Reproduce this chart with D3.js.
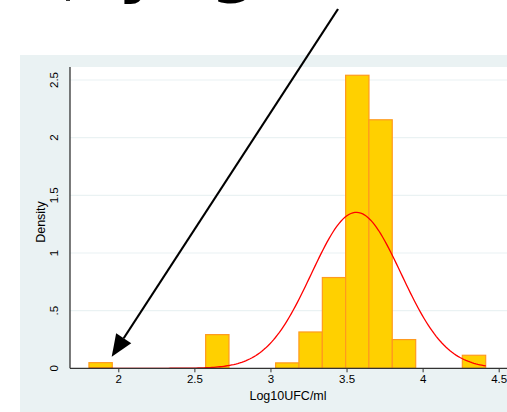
<!DOCTYPE html>
<html>
<head>
<meta charset="utf-8">
<script src="https://cdn.jsdelivr.net/npm/d3@7/dist/d3.min.js"></script>
<style>
  html, body { margin: 0; padding: 0; background: #ffffff; }
  svg { display: block; }
  text { font-family: "Liberation Sans", Arial, sans-serif; fill: #000; }
</style>
</head>
<body>
<div id="chart"></div>
<script>
// ── data ──
const binLeft = [1.807, 2.574, 3.034, 3.187, 3.341, 3.494, 3.647, 3.801, 4.261];
const binDensity = [0.049, 0.292, 0.047, 0.315, 0.787, 2.541, 2.155, 0.249, 0.113];
const binWidth = 0.1534;
const dataMin = 1.807;
const dataMax = 4.415;
const normMean = 3.564;
const normSd = 0.295;
const xTicks = [2, 2.5, 3, 3.5, 4, 4.5];
const xTickLabels = ["2", "2.5", "3", "3.5", "4", "4.5"];
const yTicks = [0, 0.5, 1, 1.5, 2, 2.5];
const yTickLabels = ["0", ".5", "1", "1.5", "2", "2.5"];

const W = 507, H = 412;

const svg = d3.select("#chart").append("svg")
  .attr("width", W)
  .attr("height", H);

// outer graph region (Stata-ish light blue)
svg.append("rect")
  .attr("x", 20).attr("y", 55)
  .attr("width", W - 20).attr("height", H - 55)
  .attr("fill", "#eaf2f3");

// plot region
const plot = { left: 70, top: 67, right: W, bottom: 368.3 };
svg.append("rect")
  .attr("x", plot.left).attr("y", plot.top)
  .attr("width", plot.right - plot.left)
  .attr("height", plot.bottom - plot.top)
  .attr("fill", "#ffffff");

const x = d3.scaleLinear().domain([2, 4.5]).range([118.3, 498.7]);
const y = d3.scaleLinear().domain([0, 2.5]).range([368.3, 80]);

// gridlines
svg.append("g")
  .selectAll("line")
  .data(yTicks.filter((d) => d > 0))
  .enter()
  .append("line")
  .attr("x1", plot.left)
  .attr("x2", plot.right)
  .attr("y1", (d) => y(d))
  .attr("y2", (d) => y(d))
  .attr("stroke", "#eaf2f3")
  .attr("stroke-width", 1.2);

// histogram bars
svg.append("g")
  .selectAll("rect")
  .data(binLeft.map((b, i) => ({ x0: b, x1: b + binWidth, d: binDensity[i] })))
  .enter()
  .append("rect")
  .attr("x", (d) => x(d.x0))
  .attr("y", (d) => y(d.d))
  .attr("width", (d) => x(d.x1) - x(d.x0))
  .attr("height", (d) => y(0) - y(d.d))
  .attr("fill", "#ffd000")
  .attr("stroke", "#ff9a1e")
  .attr("stroke-width", 1.2);

// normal density overlay
const curvePts = d3.range(0, 201).map((i) => {
  const v = dataMin + (dataMax - dataMin) * (i / 200);
  const z = (v - normMean) / normSd;
  return [v, Math.exp(-0.5 * z * z) / (normSd * Math.sqrt(2 * Math.PI))];
});
svg.append("path")
  .datum(curvePts)
  .attr("fill", "none")
  .attr("stroke", "#ff0000")
  .attr("stroke-width", 1.3)
  .attr("d", d3.line().x((d) => x(d[0])).y((d) => y(d[1])));

// axes
const xAxis = svg.append("g")
  .attr("transform", `translate(0,${plot.bottom})`)
  .call(d3.axisBottom(x).tickValues(xTicks)
    .tickFormat((d, i) => xTickLabels[i]).tickSize(4).tickPadding(3));
xAxis.select(".domain").remove();
xAxis.append("line")
  .attr("x1", plot.left).attr("x2", plot.right)
  .attr("stroke", "#333").attr("stroke-width", 1.3);
xAxis.selectAll(".tick line").attr("stroke", "#333");
xAxis.selectAll("text")
  .style("font-family", "Liberation Sans, Arial, sans-serif")
  .style("font-size", "11.5px").attr("fill", "#000");

const yAxis = svg.append("g")
  .attr("transform", `translate(${plot.left},0)`)
  .call(d3.axisLeft(y).tickValues(yTicks)
    .tickFormat((d, i) => yTickLabels[i]).tickSize(4).tickPadding(3));
yAxis.select(".domain").remove();
yAxis.append("line")
  .attr("y1", plot.top).attr("y2", plot.bottom)
  .attr("stroke", "#333").attr("stroke-width", 1.3);
yAxis.selectAll(".tick line").attr("stroke", "#333");
yAxis.selectAll(".tick text")
  .attr("x", -12).attr("dy", 0)
  .attr("text-anchor", "middle")
  .attr("transform", (d) => `rotate(-90,-12,${y(d)})`)
  .attr("y", (d) => y(d))
  .style("font-family", "Liberation Sans, Arial, sans-serif")
  .style("font-size", "11.5px").attr("fill", "#000");
yAxis.selectAll(".tick").attr("transform", null);

// axis titles
svg.append("text")
  .attr("x", 288).attr("y", 400)
  .attr("text-anchor", "middle")
  .style("font-size", "12.5px")
  .text("Log10UFC/ml");

svg.append("text")
  .attr("transform", "translate(45,222) rotate(-90)")
  .attr("text-anchor", "middle")
  .style("font-size", "12.5px")
  .text("Density");

// cut-off big heading at the very top
svg.append("text")
  .attr("x", 118).attr("y", -10)
  .style("font-family", "DejaVu Sans, sans-serif")
  .style("font-weight", "bold")
  .style("font-size", "64px")
  .text("y");
svg.append("text")
  .attr("x", 234).attr("y", -10)
  .attr("text-anchor", "middle")
  .style("font-family", "DejaVu Sans, sans-serif")
  .style("font-weight", "bold")
  .style("font-size", "64px")
  .text("g");

// annotation arrow
const tip = [111.7, 356.7];
const tail = [338, 9];
const ang = Math.atan2(tip[1] - tail[1], tip[0] - tail[0]);
const headLen = 22, headHalf = 9;
const base = [tip[0] - headLen * Math.cos(ang), tip[1] - headLen * Math.sin(ang)];
svg.append("line")
  .attr("x1", tail[0]).attr("y1", tail[1])
  .attr("x2", base[0]).attr("y2", base[1])
  .attr("stroke", "#000").attr("stroke-width", 2.2);
svg.append("polygon")
  .attr("points", [
    tip,
    [base[0] + headHalf * Math.sin(ang), base[1] - headHalf * Math.cos(ang)],
    [base[0] - headHalf * Math.sin(ang), base[1] + headHalf * Math.cos(ang)],
  ].map((p) => p.join(",")).join(" "))
  .attr("fill", "#000");
</script>
</body>
</html>
